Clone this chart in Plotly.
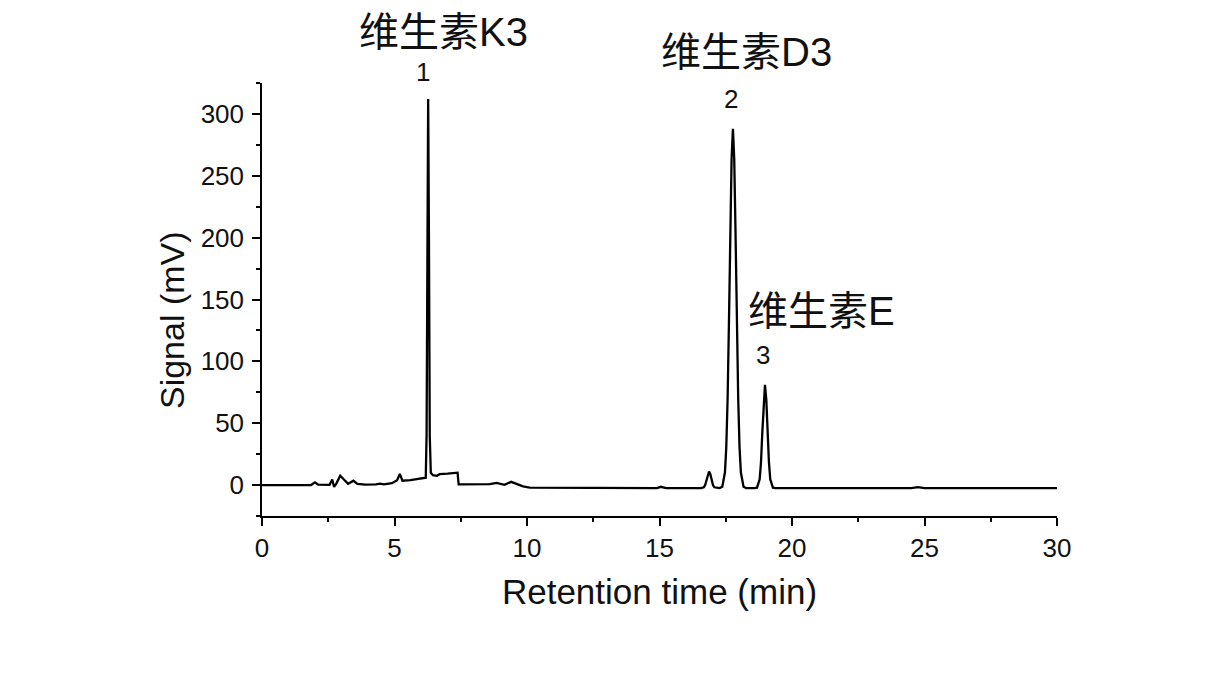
import plotly.graph_objects as go

# Chromatogram
time_min = [
    0, 1.85, 2.0, 2.12, 2.55, 2.65, 2.72, 2.8, 2.95, 3.1, 3.25, 3.45, 3.6, 3.9,
    4.3, 4.45, 4.6, 4.9, 5.1, 5.2, 5.3, 5.6, 6.1, 6.18,
    6.21, 6.24, 6.27, 6.30, 6.33, 6.37, 6.45, 6.6, 6.7, 7.0, 7.38, 7.42,
    8.0, 8.6, 8.85, 9.0, 9.15, 9.4, 9.6, 9.85, 10.1, 12.0, 14.9, 15.05, 15.25,
    16.57, 16.67, 16.72, 16.77, 16.82, 16.87, 16.92, 16.97, 17.02, 17.07, 17.17,
    17.27, 17.37, 17.47, 17.52, 17.57, 17.62, 17.67, 17.72, 17.77, 17.82, 17.87,
    17.92, 17.97, 18.02, 18.07, 18.17, 18.27,
    18.58, 18.68, 18.78, 18.83, 18.88, 18.93, 18.98, 19.03, 19.08, 19.13, 19.18,
    19.28, 19.38, 20.6, 20.8, 21.0, 24.5, 24.75, 25.0, 30.0,
]
signal_mv = [
    0, 0, 2.2, 0.3, 0.2, 4.5, -1.5, 1, 7.5, 4, 1, 3.5, 1, 0.3,
    0.5, 1.2, 0.5, 1.5, 4, 9, 3.5, 4, 5.2, 6,
    40, 200, 312, 200, 40, 10, 8, 7.5, 8.8, 9.2, 10, 0.5,
    0.5, 0.8, 1.8, 0.8, 0.2, 2.6, 1.2, -1, -2, -2.2, -2.4, -1.4, -2.4,
    -2.4, -1.8, -0.1, 3.7, 8.6, 11, 8.6, 3.7, -0.1, -1.8, -2.4,
    -2.4, -1.3, 10.3, 30.6, 69.6, 130.6, 202.6, 263.6, 288, 263.6, 202.6,
    130.6, 69.6, 30.6, 10.3, -1.3, -2.4,
    -2.4, -2.1, 4.7, 18.4, 42.6, 69.1, 81, 69.1, 42.6, 18.4, 4.7,
    -2.1, -2.4, -2.4, -1.8, -2.4, -2.4, -1.6, -2.4, -2.5,
]

x_ticks = [0, 5, 10, 15, 20, 25, 30]
y_ticks = [0, 50, 100, 150, 200, 250, 300]
y_range = [-25, 325]

peak_numbers = ["1", "2", "3"]
peak_num_x = [6.08, 17.7, 18.9]
peak_num_y = [334, 312, 105]
peak_names = ["维生素K3", "维生素D3", "维生素E"]
peak_name_x = [6.83, 18.3, 21.13]
peak_name_y = [366, 350, 141]


def to_paper(v):
    return (v - y_range[0]) / (y_range[1] - y_range[0])


fig = go.Figure()
fig.add_trace(go.Scatter(
    x=time_min, y=signal_mv, mode="lines",
    line=dict(color="black", width=2.3), showlegend=False, hoverinfo="skip",
))

annotations = []
for t, x, y in zip(peak_numbers, peak_num_x, peak_num_y):
    annotations.append(dict(x=x, y=to_paper(y), xref="x", yref="paper", text=t, showarrow=False,
                            font=dict(family="Liberation Sans, Arial", size=26, color="#111"),
                            xanchor="center", yanchor="middle"))
for t, x, y in zip(peak_names, peak_name_x, peak_name_y):
    annotations.append(dict(x=x, y=to_paper(y), xref="x", yref="paper", text=t, showarrow=False,
                            font=dict(family="Liberation Sans, Noto Sans CJK SC", size=40, color="#111"),
                            xanchor="center", yanchor="middle"))

title_font = dict(family="Liberation Sans, Arial", size=34, color="#111")
# y-axis title placed as rotated text (it sits below the axis centre in the reference)
annotations.append(dict(x=-0.113, y=0.453, xref="paper", yref="paper", text="Signal (mV)",
                        textangle=-90, showarrow=False, font=title_font,
                        xanchor="center", yanchor="middle"))

axis_font = dict(family="Liberation Sans, Arial", size=26, color="#111")
fig.update_layout(
    width=1225, height=686,
    margin=dict(l=254, r=176, t=75, b=178),
    paper_bgcolor="white", plot_bgcolor="white",
    annotations=annotations,
    xaxis=dict(
        range=[0, 30], tickvals=x_ticks, ticks="outside", ticklen=8, tickwidth=1.5,
        tickcolor="black", showline=True, linecolor="black", linewidth=1.5,
        showgrid=False, zeroline=False, tickfont=axis_font, automargin=False,
        minor=dict(ticks="outside", dtick=2.5, ticklen=4, tickwidth=1.5, tickcolor="black", showgrid=False),
        title=dict(text="Retention time (min)", standoff=18,
                   font=dict(family="Liberation Sans, Arial", size=35, color="#111")),
    ),
    yaxis=dict(
        range=y_range, tickvals=y_ticks, ticks="outside", ticklen=8, tickwidth=1.5,
        tickcolor="black", showline=True, linecolor="black", linewidth=1.5,
        showgrid=False, zeroline=False, tickfont=axis_font, automargin=False,
        ticklabelstandoff=3,
        minor=dict(ticks="outside", dtick=25, ticklen=4, tickwidth=1.5, tickcolor="black", showgrid=False),
    ),
)

fig.write_html("out.html")
